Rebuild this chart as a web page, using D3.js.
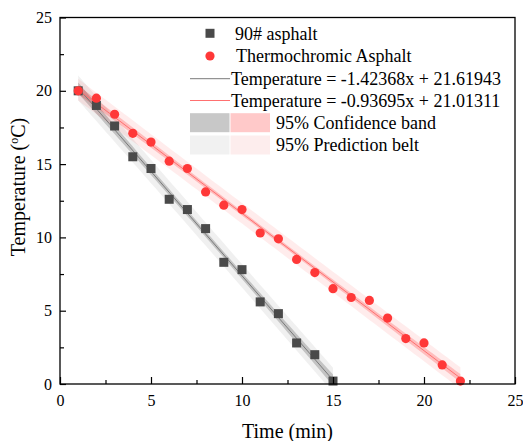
<!DOCTYPE html>
<html>
<head>
<meta charset="utf-8">
<script src="https://cdn.jsdelivr.net/npm/d3@7"></script>
<style>
  body { margin: 0; background: #fff; }
  text { font-family: "Liberation Serif", "Times New Roman", serif; fill: #000; }
</style>
</head>
<body>
<svg id="chart" width="523" height="441"></svg>
<script>
// data
const times90 = [1, 2, 3, 4, 5, 6, 7, 8, 9, 10, 11, 12, 13, 14, 15];
const temps90 = [20.0, 19.0, 17.6, 15.5, 14.7, 12.6, 11.9, 10.6, 8.3, 7.8, 5.6, 4.8, 2.8, 2.0, 0.2];
const timesTC = [1, 2, 3, 4, 5, 6, 7, 8, 9, 10, 11, 12, 13, 14, 15, 16, 17, 18, 19, 20, 21, 22];
const tempsTC = [20.0, 19.5, 18.4, 17.1, 16.5, 15.2, 14.7, 13.1, 12.2, 11.9, 10.3, 9.9, 8.5, 7.6, 6.5, 5.9, 5.7, 4.5, 3.1, 2.8, 1.3, 0.2];
// fit coefficients from the legend [slope, intercept]
const fit90 = [-1.42368, 21.61943];
const fitTC = [-0.93695, 21.01311];
// t(0.975, n-2)
const tValues = [2.160, 2.086];
const xTicks = [0, 5, 10, 15, 20, 25];
const yTicks = [0, 5, 10, 15, 20, 25];
const minorTicks = [2.5, 7.5, 12.5, 17.5, 22.5];
const legendLabels = ["90# asphalt", "Thermochromic Asphalt",
  "Temperature = -1.42368x + 21.61943", "Temperature = -0.93695x + 21.01311",
  "95% Confidence band", "95% Prediction belt"];

const svg = d3.select("#chart");
const box = { left: 60, right: 515, top: 17.5, bottom: 384 };

const x = d3.scaleLinear().domain([0, 25]).range([box.left, box.right]);
const y = d3.scaleLinear().domain([0, 25]).range([box.bottom, box.top]);

svg.append("defs").append("clipPath").attr("id", "plotClip")
  .append("rect").attr("x", box.left).attr("y", box.top)
  .attr("width", box.right - box.left).attr("height", box.bottom - box.top);

// confidence / prediction bands from the data
function bands(xs, ys, fit, t) {
  const n = xs.length;
  const mx = d3.mean(xs);
  const sxx = d3.sum(xs, v => (v - mx) ** 2);
  const sse = d3.sum(xs, (v, i) => (ys[i] - (fit[0] * v + fit[1])) ** 2);
  const s = Math.sqrt(sse / (n - 2));
  const pts = d3.range(xs[0], xs[n - 1] + 0.001, 0.25);
  return pts.map(v => {
    const yh = fit[0] * v + fit[1];
    const k = 1 / n + (v - mx) ** 2 / sxx;
    return { x: v, y: yh, c: t * s * Math.sqrt(k), p: t * s * Math.sqrt(1 + k) };
  });
}

const plot = svg.append("g").attr("clip-path", "url(#plotClip)");

const series = [
  { xs: times90, ys: temps90, fit: fit90, t: tValues[0], rgb: "128,128,128", confA: 0.4, predA: 0.12, line: "#7a7a7a" },
  { xs: timesTC, ys: tempsTC, fit: fitTC, t: tValues[1], rgb: "255,0,0", confA: 0.2, predA: 0.075, line: "#ff7070" }
];

const areaP = d3.area().x(d => x(d.x)).y0(d => y(d.y - d.p)).y1(d => y(d.y + d.p));
const areaC = d3.area().x(d => x(d.x)).y0(d => y(d.y - d.c)).y1(d => y(d.y + d.c));

series.forEach(s => {
  const b = bands(s.xs, s.ys, s.fit, s.t);
  plot.append("path").datum(b).attr("d", areaP)
    .attr("fill", `rgba(${s.rgb},${s.predA})`);
  plot.append("path").datum(b).attr("d", areaC)
    .attr("fill", `rgba(${s.rgb},${s.confA})`);
});

series.forEach(s => {
  const x0 = s.xs[0], x1 = s.xs[s.xs.length - 1];
  plot.append("line")
    .attr("x1", x(x0)).attr("y1", y(s.fit[0] * x0 + s.fit[1]))
    .attr("x2", x(x1)).attr("y2", y(s.fit[0] * x1 + s.fit[1]))
    .attr("stroke", s.line).attr("stroke-width", 1);
});

// markers
svg.append("g").selectAll("rect")
  .data(times90.map((t, i) => [t, temps90[i]]))
  .enter().append("rect")
  .attr("x", d => x(d[0]) - 4.5).attr("y", d => y(d[1]) - 4.5)
  .attr("width", 9).attr("height", 9)
  .attr("fill", "#4a4a4a");

svg.append("g").selectAll("circle")
  .data(timesTC.map((t, i) => [t, tempsTC[i]]))
  .enter().append("circle")
  .attr("cx", d => x(d[0])).attr("cy", d => y(d[1]))
  .attr("r", 4.6)
  .attr("fill", "#ff3838");

// axes
svg.append("g").attr("transform", `translate(0,${box.bottom})`)
  .call(d3.axisBottom(x).tickValues(xTicks).tickSize(-7).tickPadding(11));
svg.append("g").attr("transform", `translate(0,${box.bottom})`)
  .call(d3.axisBottom(x).tickValues(minorTicks).tickSize(-4).tickFormat(""));
svg.append("g").attr("transform", `translate(${box.left},0)`)
  .call(d3.axisLeft(y).tickValues(yTicks).tickSize(-6).tickPadding(8));
svg.append("g").attr("transform", `translate(${box.left},0)`)
  .call(d3.axisLeft(y).tickValues(minorTicks).tickSize(-4).tickFormat(""));

svg.selectAll(".domain").remove();
svg.selectAll(".tick line").attr("stroke", "#000").attr("stroke-width", 1.2);
svg.selectAll(".tick text")
  .style("font-family", "'Liberation Serif', serif")
  .style("font-size", "16px").attr("fill", "#000");

svg.append("rect")
  .attr("x", box.left).attr("y", box.top)
  .attr("width", box.right - box.left).attr("height", box.bottom - box.top)
  .attr("fill", "none").attr("stroke", "#000").attr("stroke-width", 1.3);

// axis titles
svg.append("text")
  .attr("x", (box.left + box.right) / 2).attr("y", 438)
  .attr("text-anchor", "middle").style("font-size", "20px")
  .text("Time (min)");

const yt = svg.append("text")
  .attr("transform", "translate(25,187) rotate(-90)")
  .attr("text-anchor", "middle").style("font-size", "20px");
yt.append("tspan").text("Temperature (");
yt.append("tspan").attr("dy", -7).style("font-size", "12px").text("o");
yt.append("tspan").attr("dy", 7).text("C)");

// legend
const lg = svg.append("g");
const rowY = [33.3, 56, 78.7, 100.5, 122.7, 145];
lg.append("rect").attr("x", 205.5).attr("y", rowY[0] - 4.5).attr("width", 9).attr("height", 9).attr("fill", "#4a4a4a");
lg.append("circle").attr("cx", 210).attr("cy", rowY[1]).attr("r", 4.6).attr("fill", "#ff3838");
lg.append("line").attr("x1", 190).attr("x2", 230).attr("y1", rowY[2]).attr("y2", rowY[2])
  .attr("stroke", "#7a7a7a").attr("stroke-width", 1);
lg.append("line").attr("x1", 190).attr("x2", 230).attr("y1", rowY[3]).attr("y2", rowY[3])
  .attr("stroke", "#ff7070").attr("stroke-width", 1);
lg.append("rect").attr("x", 190).attr("y", rowY[4] - 9.5).attr("width", 39.5).attr("height", 19).attr("fill", "#c8c8c8");
lg.append("rect").attr("x", 230.5).attr("y", rowY[4] - 9.5).attr("width", 39.5).attr("height", 19).attr("fill", "#ffc9c9");
lg.append("rect").attr("x", 190).attr("y", rowY[5] - 9.5).attr("width", 39.5).attr("height", 19).attr("fill", "#f1f1f1");
lg.append("rect").attr("x", 230.5).attr("y", rowY[5] - 9.5).attr("width", 39.5).attr("height", 19).attr("fill", "#fdeded");

const textX = [235, 236, 231, 231, 276, 276];
legendLabels.forEach((t, i) => {
  lg.append("text").attr("x", textX[i]).attr("y", rowY[i]).attr("dy", "0.35em")
    .style("font-size", "18px").text(t);
});
</script>
</body>
</html>
